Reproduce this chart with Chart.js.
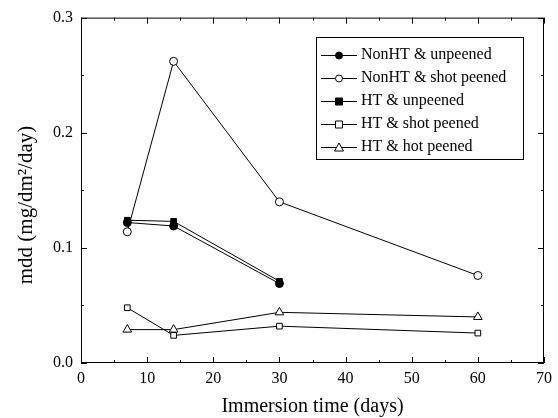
<!DOCTYPE html>
<html>
<head>
<meta charset="utf-8">
<script src="https://cdn.jsdelivr.net/npm/chart.js@4"></script>
<style>
  html, body { margin: 0; padding: 0; background: #fff; }
  #wrap { width: 558px; height: 418px; }
</style>
</head>
<body>
<div id="wrap"><canvas id="mddChart" width="558" height="418"></canvas></div>
<script>
// immersion days per series
const daysShort = [7, 14, 30];
const daysLong = [7, 14, 30, 60];

const seriesNames = ['NonHT & unpeened', 'NonHT & shot peened', 'HT & unpeened', 'HT & shot peened', 'HT & hot peened'];
const nonHtUnpeened = [0.122, 0.119, 0.069];
const nonHtShot = [0.114, 0.262, 0.140, 0.076];
const htUnpeened = [0.124, 0.123, 0.071];
const htShot = [0.048, 0.024, 0.032, 0.026];
const htHot = [0.029, 0.029, 0.044, 0.040];

const xTicks = [0, 10, 20, 30, 40, 50, 60, 70];
const yTicks = [0.0, 0.1, 0.2, 0.3];

const xTitle = 'Immersion time (days)';
const yTitle = 'mdd (mg/dm²/day)';

const FONT = '"Liberation Serif", "Times New Roman", serif';

function pts(xs, ys) {
    return xs.map((x, i) => ({ x: x, y: ys[i] }));
}

function series(label, xs, ys, style, fill) {
    return {
        label: label,
        data: pts(xs, ys),
        borderColor: '#000',
        borderWidth: 1,
        pointStyle: style,
        pointRadius: style === 'triangle' ? 5 : 4,
        pointBorderWidth: 1,
        pointBorderColor: '#000',
        pointBackgroundColor: fill ? '#000' : '#fff',
        fill: false,
        tension: 0
    };
}

// inward ticks on all four sides + frame + titles + boxed legend
const framePlugin = {
    id: 'frame',
    afterDraw(chart) {
        const ctx = chart.ctx;
        const a = chart.chartArea;
        const xs = chart.scales.x, ys = chart.scales.y;
        ctx.save();
        ctx.strokeStyle = '#000';
        ctx.lineWidth = 1;
        ctx.strokeRect(a.left + 0.5, a.top + 0.5, a.right - a.left - 1, a.bottom - a.top - 1);
        ctx.beginPath();
        for (let v = 0; v <= 70; v += 5) {
            const px = Math.round(xs.getPixelForValue(v)) + 0.5;
            const len = v % 10 === 0 ? 6 : 3;
            ctx.moveTo(px, a.bottom); ctx.lineTo(px, a.bottom - len);
            ctx.moveTo(px, a.top); ctx.lineTo(px, a.top + len);
        }
        for (let i = 0; i <= 6; i++) {
            const v = i * 0.05;
            const py = Math.round(ys.getPixelForValue(v)) + 0.5;
            const len = i % 2 === 0 ? 6 : 3;
            ctx.moveTo(a.left, py); ctx.lineTo(a.left + len, py);
            ctx.moveTo(a.right, py); ctx.lineTo(a.right - len, py);
        }
        ctx.stroke();

        // axis titles
        ctx.fillStyle = '#000';
        ctx.font = '20px ' + FONT;
        ctx.textAlign = 'center';
        ctx.textBaseline = 'middle';
        ctx.fillText(xTitle, (a.left + a.right) / 2, 407);
        ctx.save();
        ctx.translate(26, 205);
        ctx.rotate(-Math.PI / 2);
        ctx.font = '21px ' + FONT;
        ctx.fillText(yTitle, 0, 0);
        ctx.restore();

        // legend
        const bx = 316, by = 37, bw = 207, bh = 122;
        ctx.strokeRect(bx + 0.5, by + 0.5, bw, bh);
        ctx.font = '16px ' + FONT;
        ctx.textAlign = 'left';
        ctx.textBaseline = 'middle';
        chart.data.datasets.forEach((ds, i) => {
            const y = by + 18 + i * 23;
            ctx.beginPath();
            ctx.moveTo(bx + 5, y + 0.5); ctx.lineTo(bx + 41, y + 0.5);
            ctx.stroke();
            const mx = bx + 23;
            ctx.fillStyle = ds.pointBackgroundColor;
            ctx.beginPath();
            if (ds.pointStyle === 'circle') {
                ctx.arc(mx, y + 0.5, 3.5, 0, Math.PI * 2);
            } else if (ds.pointStyle === 'rect') {
                ctx.rect(mx - 3.5, y - 3, 7, 7);
            } else {
                ctx.moveTo(mx, y - 4); ctx.lineTo(mx + 4.5, y + 4); ctx.lineTo(mx - 4.5, y + 4); ctx.closePath();
            }
            ctx.fill(); ctx.stroke();
            ctx.fillStyle = '#000';
            ctx.fillText(ds.label, bx + 45, y);
        });
        ctx.restore();
    }
};

new Chart(document.getElementById('mddChart'), {
    type: 'line',
    data: {
        datasets: [
            series(seriesNames[0], daysShort, nonHtUnpeened, 'circle', true),
            series(seriesNames[1], daysLong, nonHtShot, 'circle', false),
            series(seriesNames[2], daysShort, htUnpeened, 'rect', true),
            series(seriesNames[3], daysLong, htShot, 'rect', false),
            series(seriesNames[4], daysLong, htHot, 'triangle', false)
        ]
    },
    options: {
        responsive: false,
        animation: false,
        layout: { padding: { top: 16, right: 11, left: 0, bottom: 0 } },
        plugins: { legend: { display: false }, tooltip: { enabled: false } },
        scales: {
            x: {
                type: 'linear',
                min: 0, max: 70,
                afterBuildTicks(s) { s.ticks = xTicks.map(v => ({ value: v })); },
                afterFit(s) { s.height = 55; },
                grid: { display: false, drawTicks: false },
                border: { display: false },
                ticks: { color: '#000', font: { family: FONT, size: 16 }, padding: 6, maxRotation: 0 }
            },
            y: {
                min: 0, max: 0.3,
                afterBuildTicks(s) { s.ticks = yTicks.map(v => ({ value: v })); },
                afterFit(s) { s.width = 81; },
                grid: { display: false, drawTicks: false },
                border: { display: false },
                ticks: { color: '#000', font: { family: FONT, size: 16 }, padding: 8, callback: v => v.toFixed(1) }
            }
        }
    },
    plugins: [framePlugin]
});
</script>
</body>
</html>
